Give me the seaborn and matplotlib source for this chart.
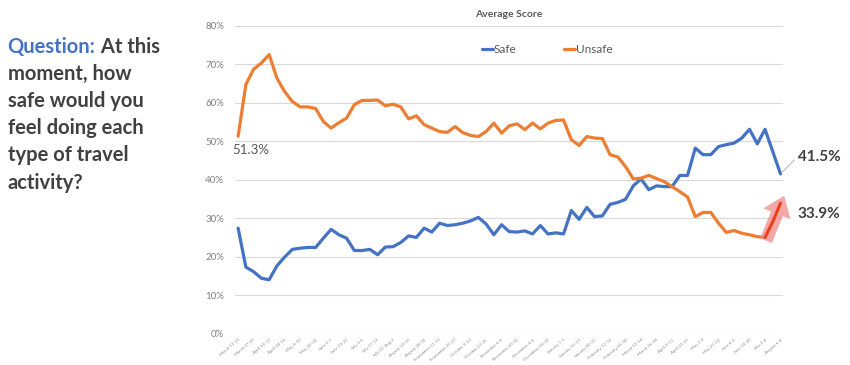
import numpy as np
import pandas as pd
import matplotlib
matplotlib.use("Agg")
import matplotlib.pyplot as plt
import seaborn as sns
from matplotlib.ticker import PercentFormatter

labels = ["March 13-15", "March 27-29", "April 10-12", "April 24-26", "May 8-10",
          "May 22-24", "June 5-7", "June 19-21", "July 3-5", "July 17-19",
          "July 31-Aug 2", "August 14-16", "August 28-30", "September 11-13",
          "September 25-27", "October 9-11", "October 23-25", "November 6-8",
          "November 20-22", "December 4-6", "December 18-20", "January 1-3",
          "January 15-17", "January 29-31", "February 12-14", "February 26-28",
          "March 12-14", "March 26-28", "April 9-11", "April 23-25", "May 7-9",
          "May 21-23", "June 4-6", "June 18-20", "July 2-4", "August 6-8"]

safe = [27.4, 17.3, 16.1, 14.4, 14.0, 17.6, 19.9, 21.9, 22.2, 22.4,
        22.4, 24.8, 27.1, 25.7, 24.8, 21.6, 21.6, 21.9, 20.5, 22.5,
        22.6, 23.7, 25.4, 25.0, 27.4, 26.4, 28.7, 28.1, 28.3, 28.7,
        29.3, 30.2, 28.5, 25.7, 28.3, 26.5, 26.4, 26.7, 25.9, 28.1,
        25.9, 26.2, 25.9, 32.0, 29.7, 32.8, 30.4, 30.6, 33.6, 34.1,
        34.9, 38.4, 40.2, 37.4, 38.4, 38.2, 38.2, 41.1, 41.1, 48.2,
        46.5, 46.5, 48.6, 49.1, 49.5, 50.8, 53.1, 49.3, 53.1, 47.3,
        41.5]

unsafe = [51.3, 64.7, 68.7, 70.3, 72.5, 66.4, 62.9, 60.3, 58.9, 58.9,
          58.5, 55.1, 53.4, 54.8, 56.0, 59.5, 60.6, 60.6, 60.7, 59.2,
          59.6, 58.9, 55.8, 56.6, 54.3, 53.4, 52.5, 52.3, 53.8, 52.2,
          51.5, 51.2, 52.5, 54.7, 52.1, 54.0, 54.5, 53.0, 54.7, 53.2,
          54.7, 55.4, 55.5, 50.4, 48.9, 51.2, 50.8, 50.7, 46.5, 45.9,
          43.4, 40.2, 40.4, 41.1, 40.3, 39.5, 38.2, 36.9, 35.5, 30.4,
          31.5, 31.5, 28.7, 26.3, 26.8, 26.1, 25.7, 25.2, 25.0, 29.1,
          33.9]

blue = "#4472C4"
orange = "#ED7D31"
gray_txt = "#595959"
dark = "#404040"

sns.set_style("white")
plt.rcParams["font.family"] = ["Lato", "DejaVu Sans"]

n = len(safe)
df = pd.DataFrame({
    "week": list(range(n)) * 2,
    "value": [v / 100 for v in safe] + [v / 100 for v in unsafe],
    "series": ["Safe"] * n + ["Unsafe"] * n,
})

fig = plt.figure(figsize=(8.5, 3.65), dpi=100)
ax = fig.add_axes([0.2765, 0.0858, 0.6445, 0.8438])

sns.lineplot(data=df, x="week", y="value", hue="series",
             palette={"Safe": blue, "Unsafe": orange}, linewidth=2.3, ax=ax)

# red highlight of last rise + pink arrow
last = df[(df.series == "Unsafe") & (df.week >= n - 3)]
ax.annotate("", xy=(n - 0.4, 0.365), xytext=(n - 3.0, 0.235),
            annotation_clip=False,
            arrowprops=dict(arrowstyle="simple,head_width=1.5,head_length=1.0,tail_width=0.65",
                            mutation_scale=14, color="#F28080", alpha=0.7, lw=0))
ax.plot(last.week, last.value, color="#E8401C", lw=2.0, zorder=5)

ax.set_xlim(-0.4, n - 1 + 0.3)
ax.set_ylim(0, 0.8)
ax.yaxis.set_major_formatter(PercentFormatter(1.0, decimals=0))
ax.set_yticks(np.arange(0, 0.81, 0.1))
ax.set_xticks(range(0, n, 2))
ax.set_xticklabels(labels, rotation=40, ha="right", rotation_mode="anchor",
                   fontsize=3.2, color="#8c8c8c")
ax.tick_params(axis="y", labelsize=7, colors="#7f7f7f", length=0, pad=8)
ax.tick_params(axis="x", length=0, pad=3)
ax.grid(axis="y", color="#d9d9d9", lw=0.8)
ax.set_axisbelow(True)
for s in ax.spines.values():
    s.set_visible(False)
ax.set_xlabel("")
ax.set_ylabel("")
ax.set_title("Average Score", fontsize=7.5, fontweight="bold", color=gray_txt, pad=6)

ax.legend(loc="upper center", bbox_to_anchor=(0.57, 0.975), ncol=2, frameon=False,
          fontsize=8.5, labelcolor=gray_txt, handlelength=0.9, handletextpad=0.1,
          columnspacing=4)

ax.text(-0.8, 0.478, "51.3%", fontsize=9.5, color=gray_txt, ha="left", va="center")
ax.annotate("41.5%", xy=(n - 1, safe[-1] / 100), xytext=(n + 1.2, 0.46),
            fontsize=11, fontweight="bold", color=dark, va="center", ha="left",
            annotation_clip=False,
            arrowprops=dict(arrowstyle="-", color="#a6a6a6", lw=0.6,
                            shrinkA=0, shrinkB=1, relpos=(0, 0.5)))
ax.text(n + 1.2, 0.31, "33.9%", fontsize=11, fontweight="bold", color=dark,
        va="center", ha="left")

# question text on the left
fs = 14.5
q = fig.text(0.009, 0.845, "Question:", fontsize=fs, fontweight="bold",
             color=blue, va="bottom")
ax.annotate(" At this", xy=(1, 0), xycoords=q, fontsize=fs, fontweight="bold",
            color=dark, va="bottom", ha="left", annotation_clip=False)
rest = ["moment, how", "safe would you", "feel doing each", "type of travel", "activity?"]
for k, line in enumerate(rest):
    fig.text(0.009, 0.845 - (k + 1) * 0.0745, line, fontsize=fs,
             fontweight="bold", color=dark, va="bottom")

fig.savefig("out.png", dpi=100)
